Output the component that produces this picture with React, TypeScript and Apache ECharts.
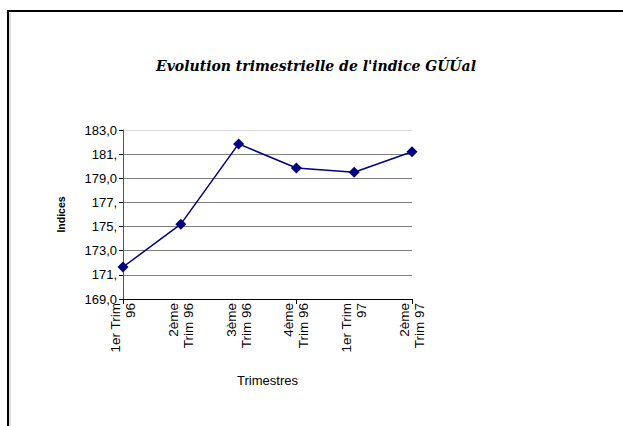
import React, { useEffect, useRef } from "react";
import * as echarts from "echarts";

const categories = ["1er Trim\n96", "2ème\nTrim 96", "3ème\nTrim 96", "4ème\nTrim 96", "1er Trim\n97", "2ème\nTrim 97"];
const values = [171.65, 175.2, 181.85, 179.85, 179.5, 181.2];
const yTickLabels: Record<string, string> = {
  "169": "169,0",
  "171": "171,",
  "173": "173,0",
  "175": "175,",
  "177": "177,",
  "179": "179,0",
  "181": "181,",
  "183": "183,0",
};

export default function App() {
  const ref = useRef<HTMLDivElement>(null);
  useEffect(() => {
    if (!ref.current) return;
    const chart = echarts.init(ref.current, null, { renderer: "svg" });
    chart.setOption({
      animation: false,
      backgroundColor: "#fff",
      title: {
        text: "Evolution trimestrielle de l'indice GÚÚal",
        left: 311,
        top: 54,
        textAlign: "center",
        textStyle: {
          fontFamily: "DejaVu Serif",
          fontStyle: "italic",
          fontWeight: "bold",
          fontSize: 14,
          color: "#000",
        },
      },
      graphic: [
        { type: "line", shape: { x1: 7, y1: 11, x2: 623, y2: 11 }, style: { stroke: "#000", lineWidth: 2 } },
        { type: "line", shape: { x1: 8, y1: 10, x2: 8, y2: 426 }, style: { stroke: "#000", lineWidth: 2 } },
        { type: "line", shape: { x1: 10, y1: 13, x2: 10, y2: 426 }, style: { stroke: "#bbb", lineWidth: 1 } },
      ],
      grid: { left: 123, right: 211, top: 130, bottom: 127 },
      xAxis: {
        type: "category",
        data: categories,
        boundaryGap: false,
        name: "Trimestres",
        nameLocation: "middle",
        nameGap: 75,
        nameTextStyle: { fontFamily: "Liberation Sans", fontSize: 13, color: "#000" },
        axisLine: { lineStyle: { color: "#000", width: 1 } },
        axisTick: { show: true, interval: 2, length: 5, inside: false, lineStyle: { color: "#000" } },
        axisLabel: {
          interval: 0,
          rotate: 90,
          margin: 4,
          fontFamily: "Liberation Sans",
          fontSize: 13.5,
          lineHeight: 15,
          color: "#000",
        },
        splitLine: { show: false },
      },
      yAxis: {
        type: "value",
        min: 169,
        max: 183,
        interval: 2,
        name: "Indices",
        nameLocation: "middle",
        nameGap: 57,
        nameRotate: 90,
        nameTextStyle: { fontFamily: "Liberation Sans", fontWeight: "bold", fontSize: 10.5, color: "#000" },
        axisLine: { show: true, lineStyle: { color: "#555", width: 1 } },
        axisTick: { show: true, length: 4, lineStyle: { color: "#000" } },
        axisLabel: {
          margin: 6,
          fontFamily: "Liberation Sans",
          fontSize: 13,
          color: "#000",
          formatter: (v: number) => yTickLabels[String(Math.round(v))] ?? String(v),
        },
        splitLine: {
          show: true,
          lineStyle: { color: ["#808080", "#808080", "#808080", "#808080", "#808080", "#808080", "#808080", "#ddd"], width: 1 },
        },
      },
      series: [
        {
          type: "line",
          data: values,
          symbol: "diamond",
          symbolSize: 11,
          itemStyle: { color: "#000080" },
          lineStyle: { color: "#000080", width: 1.5 },
        },
      ],
    });
    return () => chart.dispose();
  }, []);
  return <div ref={ref} style={{ width: 623, height: 426, position: "absolute", left: 0, top: 0 }} />;
}
